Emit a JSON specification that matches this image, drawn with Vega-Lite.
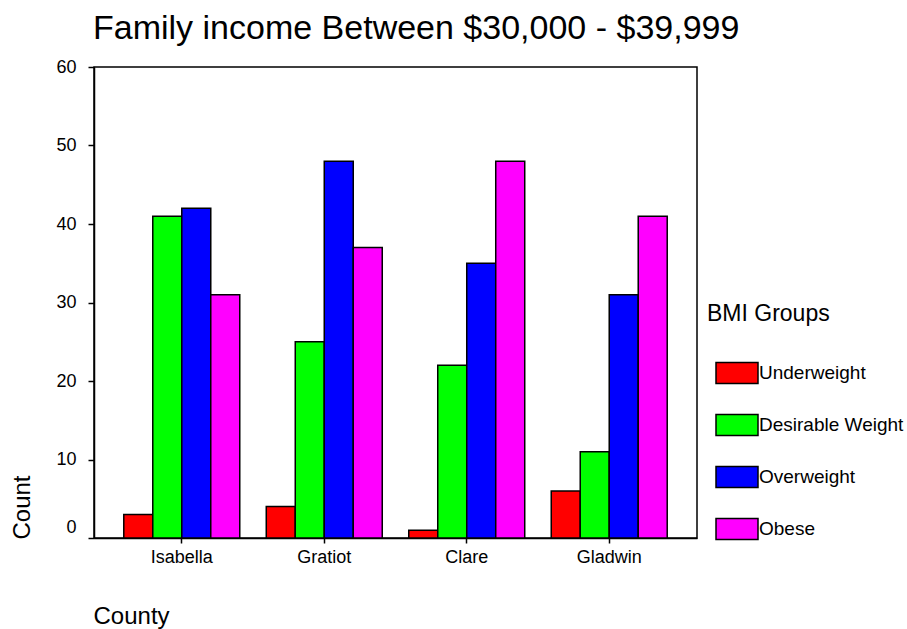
{
  "$schema": "https://vega.github.io/schema/vega-lite/v6.json",
  "autosize": {"type": "none"},
  "padding": {"left": 94, "top": 67, "right": 210, "bottom": 91},
  "width": 603,
  "height": 471,
  "background": "white",
  "title": {
    "text": "Family income Between $30,000 - $39,999",
    "anchor": "start",
    "frame": "group",
    "font": "Liberation Sans",
    "fontSize": 34,
    "fontWeight": "normal",
    "color": "black",
    "baseline": "alphabetic",
    "dx": -1,
    "dy": 47,
    "offset": 32
  },
  "data": {
    "values": [
      {"County": "Isabella", "BMI": "Underweight", "Count": 3},
      {"County": "Isabella", "BMI": "Desirable Weight", "Count": 41},
      {"County": "Isabella", "BMI": "Overweight", "Count": 42},
      {"County": "Isabella", "BMI": "Obese", "Count": 31},
      {"County": "Gratiot", "BMI": "Underweight", "Count": 4},
      {"County": "Gratiot", "BMI": "Desirable Weight", "Count": 25},
      {"County": "Gratiot", "BMI": "Overweight", "Count": 48},
      {"County": "Gratiot", "BMI": "Obese", "Count": 37},
      {"County": "Clare", "BMI": "Underweight", "Count": 1},
      {"County": "Clare", "BMI": "Desirable Weight", "Count": 22},
      {"County": "Clare", "BMI": "Overweight", "Count": 35},
      {"County": "Clare", "BMI": "Obese", "Count": 48},
      {"County": "Gladwin", "BMI": "Underweight", "Count": 6},
      {"County": "Gladwin", "BMI": "Desirable Weight", "Count": 11},
      {"County": "Gladwin", "BMI": "Overweight", "Count": 31},
      {"County": "Gladwin", "BMI": "Obese", "Count": 41}
    ]
  },
  "mark": {"type": "bar", "stroke": "black", "strokeWidth": 1.5},
  "encoding": {
    "x": {
      "field": "County",
      "type": "nominal",
      "sort": ["Isabella", "Gratiot", "Clare", "Gladwin"],
      "scale": {"paddingInner": 0.186, "paddingOuter": 0.209},
      "axis": {
        "title": "County",
        "titleAnchor": "start",
        "titleAlign": "left",
        "titleX": -1,
        "titleY": 85,
        "titleBaseline": "alphabetic",
        "titleFont": "Liberation Sans",
        "titleFontSize": 24,
        "titleFontWeight": "normal",
        "titleColor": "black",
        "labelAngle": 0,
        "labelFont": "Liberation Sans",
        "labelFontSize": 18,
        "labelColor": "black",
        "labelPadding": 5,
        "tickSize": 5,
        "tickColor": "black",
        "tickWidth": 1.5,
        "domainColor": "black",
        "domainWidth": 1.5
      }
    },
    "xOffset": {
      "field": "BMI",
      "type": "nominal",
      "sort": ["Underweight", "Desirable Weight", "Overweight", "Obese"],
      "scale": {"paddingInner": 0, "paddingOuter": 0}
    },
    "y": {
      "field": "Count",
      "type": "quantitative",
      "scale": {"domain": [0, 60], "nice": false},
      "axis": {
        "values": [0, 10, 20, 30, 40, 50, 60],
        "grid": false,
        "title": "Count",
        "titleAnchor": "start",
        "titleAngle": -90,
        "titleAlign": "left",
        "titleBaseline": "alphabetic",
        "titleX": -65,
        "titleY": 472,
        "titleFont": "Liberation Sans",
        "titleFontSize": 24,
        "titleFontWeight": "normal",
        "titleColor": "black",
        "labelFont": "Liberation Sans",
        "labelFontSize": 18,
        "labelColor": "black",
        "labelPadding": 12,
        "labelOffset": {"condition": {"test": "datum.value === 0", "value": -11}, "value": 0},
        "tickSize": 6,
        "tickColor": "black",
        "tickWidth": 1.5,
        "domainColor": "black",
        "domainWidth": 1.5
      }
    },
    "fill": {
      "field": "BMI",
      "type": "nominal",
      "sort": ["Underweight", "Desirable Weight", "Overweight", "Obese"],
      "scale": {
        "domain": ["Underweight", "Desirable Weight", "Overweight", "Obese"],
        "range": ["#FF0000", "#00FF00", "#0000FF", "#FF00FF"]
      },
      "legend": {
        "title": "BMI Groups",
        "orient": "none",
        "legendX": 613,
        "legendY": 236,
        "titleFont": "Liberation Sans",
        "titleFontSize": 23,
        "titleFontWeight": "normal",
        "titleColor": "black",
        "titlePadding": 25,
        "labelFont": "Liberation Sans",
        "labelFontSize": 19,
        "labelColor": "black",
        "labelOffset": 0,
        "symbolOffset": 8,
        "symbolType": "M-1,-0.5H1V0.5H-1Z",
        "symbolSize": 1764,
        "symbolStrokeColor": "black",
        "symbolStrokeWidth": 1.5,
        "symbolOpacity": 1,
        "rowPadding": 16,
        "padding": 0
      }
    }
  },
  "config": {
    "view": {"stroke": "black", "strokeWidth": 1.5},
    "font": "Liberation Sans"
  }
}
